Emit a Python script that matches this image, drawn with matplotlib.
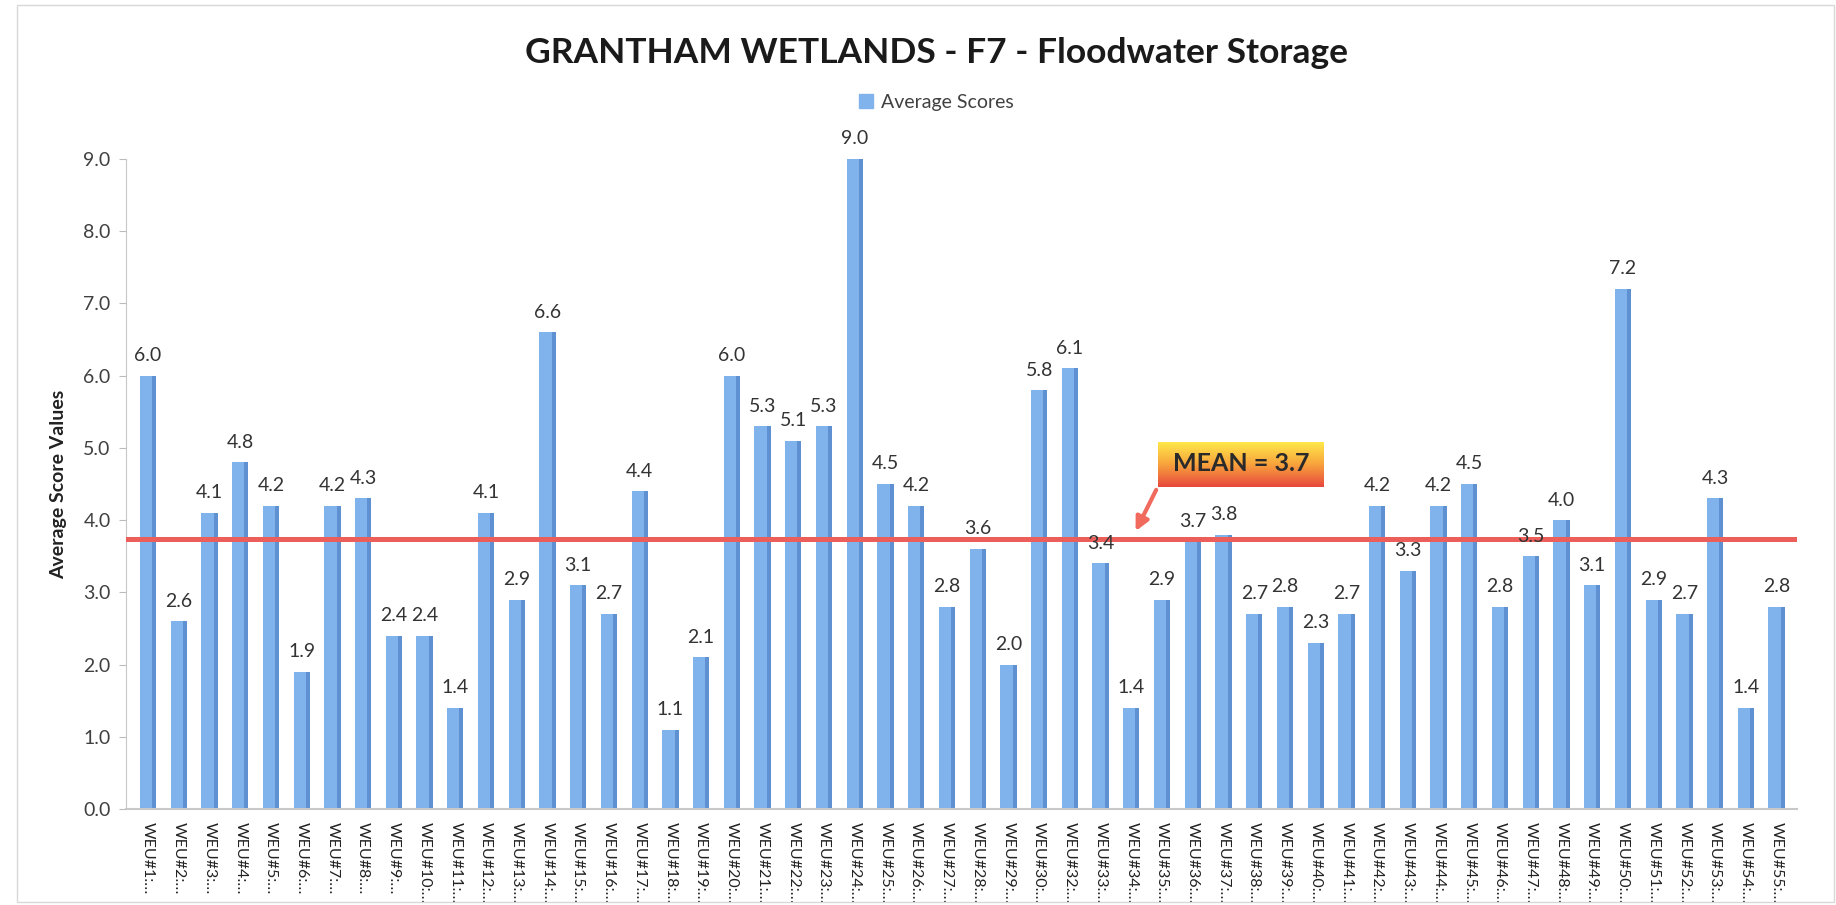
import numpy as np
import matplotlib
matplotlib.use("Agg")
import matplotlib.pyplot as plt
from matplotlib.colors import LinearSegmentedColormap
from matplotlib.patches import Rectangle

plt.rcParams['font.family'] = ['Lato', 'DejaVu Sans']

# site ids (WEU#31 is absent in the source chart)
site_ids = list(range(1, 31)) + list(range(32, 56))
scores = [6.0, 2.6, 4.1, 4.8, 4.2, 1.9, 4.2, 4.3, 2.4, 2.4,
          1.4, 4.1, 2.9, 6.6, 3.1, 2.7, 4.4, 1.1, 2.1, 6.0,
          5.3, 5.1, 5.3, 9.0, 4.5, 4.2, 2.8, 3.6, 2.0, 5.8,
          6.1, 3.4, 1.4, 2.9, 3.7, 3.8, 2.7, 2.8, 2.3, 2.7,
          4.2, 3.3, 4.2, 4.5, 2.8, 3.5, 4.0, 3.1, 7.2, 2.9,
          2.7, 4.3, 1.4, 2.8]
labels = ["WEU#%d:\u2026" % i for i in site_ids]
yticks = [0, 1, 2, 3, 4, 5, 6, 7, 8, 9]

mean_val = np.mean(scores)
x = np.arange(len(scores))

fig = plt.figure(figsize=(18.36, 9.05), dpi=100)
ax = fig.add_axes([0.0686, 0.106, 0.9104, 0.7183])

face = '#80B2EC'
side = '#5E90D2'
ax.bar(x - 0.065, scores, width=0.40, color=face, zorder=2, clip_on=False)
ax.bar(x + 0.2, scores, width=0.13, color=side, zorder=2, clip_on=False)

for xi, v in zip(x, scores):
    ax.text(xi, v + 0.16, "%.1f" % v, ha='center', va='bottom',
            fontsize=14, color='#333333', zorder=4)

ax.axhline(mean_val, color='#EB5E5A', lw=3.6, zorder=3)

ax.set_xlim(-0.72, len(scores) - 0.32)
ax.set_ylim(0, 9)
ax.set_yticks(yticks)
ax.set_yticklabels(["%.1f" % t for t in yticks], fontsize=14, color='#404040')
ax.set_xticks(x)
ax.set_xticklabels(labels, rotation=-90, fontsize=11.5, color='#222222',
                   va='top', ha='center')
ax.tick_params(axis='x', length=0, pad=9)
ax.tick_params(axis='y', length=5, color='#BBBBBB', pad=6)

for s in ['top', 'right']:
    ax.spines[s].set_visible(False)
ax.spines['left'].set_color('#C8C8C8')
ax.spines['bottom'].set_color('#C8C8C8')
ax.spines['bottom'].set_linewidth(1.5)

ax.set_ylabel("Average Score Values", fontsize=14, fontweight='bold',
              color='#222222', labelpad=12)

fig.text(0.51, 0.941, "GRANTHAM WETLANDS - F7 - Floodwater Storage",
         ha='center', va='center', fontsize=25.5, fontweight='bold', color='#1a1a1a')

h = Rectangle((0, 0), 1, 1, color=face)
fig.legend([h], ["Average Scores"], loc='center', bbox_to_anchor=(0.51, 0.887),
           frameon=False, fontsize=14, handlelength=0.7, handleheight=0.7,
           handletextpad=0.4, labelcolor='#404040')

# mean callout box with yellow-to-red gradient
box = fig.add_axes([1158 / 1836, 1 - 487 / 905, 166 / 1836, 45 / 905])
cmap = LinearSegmentedColormap.from_list('mean', ['#FFE84A', '#F8A23C', '#E8483E'])
grad = np.linspace(0, 1, 100).reshape(-1, 1)
box.imshow(grad, cmap=cmap, aspect='auto', extent=[0, 1, 0, 1], origin='upper')
box.set_axis_off()
box.text(0.5, 0.52, "MEAN = %.1f" % mean_val, ha='center', va='center',
         fontsize=18, fontweight='bold', color='#2a2a2a', transform=box.transAxes)

ax.annotate("", xy=(32.1, mean_val + 0.08), xytext=(32.85, mean_val + 0.72),
            arrowprops=dict(arrowstyle='-|>', color='#F06A5E', lw=3,
                            mutation_scale=20), zorder=5)

fig.patches.append(Rectangle((0.009, 0.003), 0.99, 0.991, transform=fig.transFigure,
                             fill=False, edgecolor='#D8D8D8', lw=1))

fig.savefig("out.png", dpi=100, facecolor='white')
